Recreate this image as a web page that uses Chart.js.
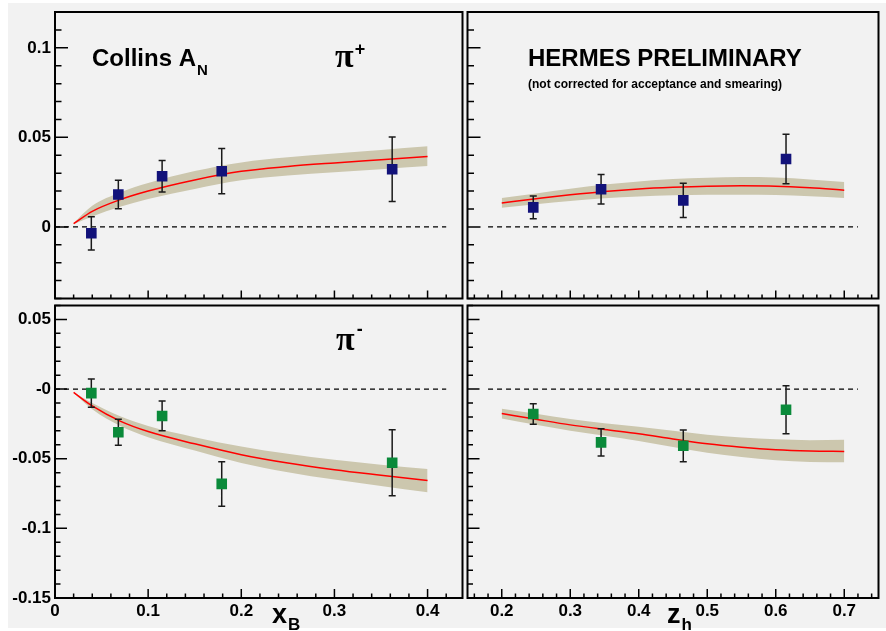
<!DOCTYPE html>
<html>
<head>
<meta charset="utf-8">
<script src="https://cdn.jsdelivr.net/npm/chart.js@4.4.1/dist/chart.umd.min.js"></script>
<style>
  html, body { margin: 0; padding: 0; background: #fff; }
  #page { position: relative; width: 886px; height: 631px; overflow: hidden; }
  #bg { position: absolute; left: 8px; top: 3px; width: 878px; height: 625px; background: #f2f2f2; }
  canvas { position: absolute; }
  #tl { left: 0; top: 0; }
  #tr { left: 460px; top: 0; }
  #bl { left: 0; top: 298px; }
  #br { left: 460px; top: 298px; }
</style>
</head>
<body>
<div id="page">
  <div id="bg"></div>
  <canvas id="tl" width="470" height="306"></canvas>
  <canvas id="tr" width="426" height="306"></canvas>
  <canvas id="bl" width="470" height="333"></canvas>
  <canvas id="br" width="426" height="333"></canvas>
</div>
<script>
// ---------- bins ----------
const xbBins = [0.039, 0.068, 0.115, 0.179, 0.362];
const zhBins = [0.246, 0.345, 0.465, 0.615];

// ---------- measured asymmetries ----------
const piPlusXb      = [-0.0036, 0.0181, 0.0283, 0.0311, 0.0322];
const piPlusXbErr   = [0.0093, 0.0080, 0.0088, 0.0126, 0.0180];
const piMinusXb     = [-0.0029, -0.0310, -0.0193, -0.0681, -0.0529];
const piMinusXbErr  = [0.0101, 0.0093, 0.0107, 0.0160, 0.0237];
const piPlusZh      = [0.0109, 0.0210, 0.0148, 0.0379];
const piPlusZhErr   = [0.0064, 0.0082, 0.0095, 0.0138];
const piMinusZh     = [-0.0179, -0.0383, -0.0407, -0.0148];
const piMinusZhErr  = [0.0074, 0.0098, 0.0114, 0.0172];

// ---------- model curves with error band ----------
const curveXb = [0.02, 0.04, 0.07, 0.1, 0.15, 0.2, 0.25, 0.3, 0.35, 0.4];
const fitPlusXb    = [0.0018, 0.0087, 0.0152, 0.0200, 0.0262, 0.0310, 0.0337, 0.0357, 0.0375, 0.0393];
const bandPlusXbHi = [0.0022, 0.0118, 0.0192, 0.0245, 0.0312, 0.0360, 0.0389, 0.0410, 0.0430, 0.0450];
const bandPlusXbLo = [0.0014, 0.0058, 0.0112, 0.0155, 0.0212, 0.0260, 0.0287, 0.0305, 0.0322, 0.0340];
const fitMinusXb    = [-0.0024, -0.0121, -0.0230, -0.0305, -0.0393, -0.0471, -0.0531, -0.0579, -0.0619, -0.0657];
const bandMinusXbHi = [-0.0022, -0.0100, -0.0195, -0.0265, -0.0345, -0.0412, -0.0465, -0.0508, -0.0543, -0.0574];
const bandMinusXbLo = [-0.0026, -0.0145, -0.0265, -0.0345, -0.0441, -0.0530, -0.0597, -0.0650, -0.0695, -0.0740];

const curveZh = [0.2, 0.25, 0.3, 0.35, 0.4, 0.45, 0.5, 0.55, 0.6, 0.65, 0.7];
const fitPlusZh    = [0.0134, 0.0157, 0.0179, 0.0198, 0.0212, 0.0221, 0.0227, 0.0229, 0.0227, 0.0218, 0.0205];
const bandPlusZhHi = [0.0161, 0.0187, 0.0213, 0.0236, 0.0254, 0.0267, 0.0274, 0.0278, 0.0276, 0.0265, 0.0250];
const bandPlusZhLo = [0.0107, 0.0127, 0.0145, 0.0160, 0.0170, 0.0176, 0.0180, 0.0180, 0.0178, 0.0171, 0.0161];
const fitMinusZh    = [-0.0176, -0.0217, -0.0257, -0.0290, -0.0321, -0.0358, -0.0393, -0.0418, -0.0436, -0.0445, -0.0448];
const bandMinusZhHi = [-0.0141, -0.0178, -0.0215, -0.0245, -0.0270, -0.0300, -0.0328, -0.0348, -0.0361, -0.0367, -0.0364];
const bandMinusZhLo = [-0.0211, -0.0256, -0.0299, -0.0335, -0.0372, -0.0416, -0.0458, -0.0488, -0.0511, -0.0523, -0.0526];

// ---------- dashed zero lines ----------
const zeroXb = [0, 0.42];
const zeroZh = [0.18, 0.72];
const zeroY  = [0, 0];

// ---------- axes ----------
const xbRange = [0, 0.4375];
const zhRange = [0.15, 0.75];
const topRange = [-0.04, 0.12];
const bottomRange = [-0.15, 0.06];

const xbTicks = [0, 0.1, 0.2, 0.3, 0.4];
const xbTickLabels = ['0', '0.1', '0.2', '0.3', '0.4'];
const zhTicks = [0.2, 0.3, 0.4, 0.5, 0.6, 0.7];
const zhTickLabels = ['0.2', '0.3', '0.4', '0.5', '0.6', '0.7'];
const topTicks = [0, 0.05, 0.1];
const topTickLabels = ['0', '0.05', '0.1'];
const bottomTicks = [-0.15, -0.1, -0.05, 0, 0.05];
const bottomTickLabels = ['-0.15', '-0.1', '-0.05', '-0', '0.05'];

const SANS  = '"Liberation Sans", Arial, Helvetica, sans-serif';
const SERIF = '"Liberation Serif", "Times New Roman", serif';
const BAND  = '#ccc7ae';
const NAVY  = '#12127a';
const GREEN = '#0a8a3a';

const pts = (xs, ys) => xs.map((x, i) => ({ x, y: ys[i] }));

// error bars are drawn just before the markers so the squares sit on top
const errorBars = {
  id: 'errorBars',
  beforeDatasetDraw(chart, { index }) {
    const ds = chart.data.datasets[index];
    if (!ds.errors) return;
    const { ctx, scales: { x, y } } = chart;
    ctx.save();
    ctx.strokeStyle = '#1a1a1a';
    ctx.lineWidth = 1.5;
    ctx.beginPath();
    ds.data.forEach((p, i) => {
      const px = x.getPixelForValue(p.x);
      const top = y.getPixelForValue(p.y + ds.errors[i]);
      const bot = y.getPixelForValue(p.y - ds.errors[i]);
      ctx.moveTo(px, top); ctx.lineTo(px, bot);
      ctx.moveTo(px - 3.5, top); ctx.lineTo(px + 3.5, top);
      ctx.moveTo(px - 3.5, bot); ctx.lineTo(px + 3.5, bot);
    });
    ctx.stroke();
    ctx.restore();
  }
};

// ROOT style frame: box + inward major/minor ticks + free text
const rootFrame = {
  id: 'rootFrame',
  afterDraw(chart, args, opts) {
    const { ctx, chartArea: a, scales: { x, y } } = chart;
    ctx.save();
    ctx.strokeStyle = '#000';
    ctx.lineWidth = 1.5;
    ctx.beginPath();
    y.ticks.forEach(t => {
      const py = y.getPixelForValue(t.value);
      ctx.moveTo(a.left, py); ctx.lineTo(a.left + opts.yMajor, py);
    });
    for (let i = Math.ceil(y.min / opts.yStep - 1e-6); i * opts.yStep <= y.max + 1e-9; i++) {
      const py = y.getPixelForValue(i * opts.yStep);
      ctx.moveTo(a.left, py); ctx.lineTo(a.left + opts.yMinor, py);
    }
    x.ticks.forEach(t => {
      const px = x.getPixelForValue(t.value);
      ctx.moveTo(px, a.bottom); ctx.lineTo(px, a.bottom - opts.xMajor);
    });
    for (let i = Math.ceil(x.min / opts.xStep - 1e-6); i * opts.xStep <= x.max + 1e-9; i++) {
      const px = x.getPixelForValue(i * opts.xStep);
      ctx.moveTo(px, a.bottom); ctx.lineTo(px, a.bottom - opts.xMinor);
    }
    ctx.stroke();
    ctx.lineWidth = 2;
    ctx.strokeRect(a.left, a.top, a.right - a.left, a.bottom - a.top);

    ctx.fillStyle = '#000';
    ctx.textBaseline = 'alphabetic';
    ctx.textAlign = 'left';
    (opts.texts || []).forEach(item => {
      let cx = item.x;
      item.parts.forEach(p => {
        ctx.font = p.font;
        ctx.fillText(p.t, cx + (p.dx || 0), item.y + (p.dy || 0));
        cx += ctx.measureText(p.t).width + (p.dx || 0);
      });
    });
    ctx.restore();
  }
};

function makePanel(id, cfg) {
  // lower "order" is painted later, i.e. on top
  const datasets = [
    { data: pts(cfg.bins, cfg.vals), errors: cfg.errs, showLine: false, pointStyle: 'rect', order: 0,
      pointRadius: 7.5, backgroundColor: cfg.color, borderColor: cfg.color, borderWidth: 0 },
    { data: pts(cfg.curveX, cfg.fit), borderColor: '#ff0000', borderWidth: 1.5, pointRadius: 0, order: 1,
      fill: false, cubicInterpolationMode: 'monotone' },
    { data: pts(cfg.curveX, cfg.hi), borderColor: 'rgba(0,0,0,0)', borderWidth: 1, pointRadius: 0, order: 2,
      backgroundColor: BAND, fill: '+1', cubicInterpolationMode: 'monotone' },
    { data: pts(cfg.curveX, cfg.lo), borderColor: 'rgba(0,0,0,0)', borderWidth: 1, pointRadius: 0, order: 3,
      fill: false, cubicInterpolationMode: 'monotone' },
    { data: pts(cfg.zeroX, zeroY), borderColor: '#000', borderWidth: 1.3, borderDash: [5, 4], pointRadius: 0, order: 4 }
  ];

  const tickFont = { family: SANS, size: 17, weight: 'bold' };

  new Chart(document.getElementById(id), {
    type: 'line',
    data: { datasets },
    plugins: [errorBars, rootFrame],
    options: {
      responsive: false,
      animation: false,
      layout: { padding: cfg.pad },
      plugins: {
        legend: { display: false },
        tooltip: { enabled: false },
        rootFrame: cfg.frame
      },
      scales: {
        x: {
          type: 'linear', min: cfg.xRange[0], max: cfg.xRange[1],
          grid: { display: false, drawTicks: false }, border: { display: false },
          ticks: { display: cfg.xLabels, font: tickFont, color: '#000', padding: 3, maxRotation: 0,
                   callback: (v, i) => cfg.xTickLabels[i] },
          afterBuildTicks: s => { s.ticks = cfg.xTicks.map(value => ({ value })); },
          afterFit: s => { s.height = cfg.xHeight; s.paddingLeft = 0; s.paddingRight = 0; }
        },
        y: {
          type: 'linear', min: cfg.yRange[0], max: cfg.yRange[1],
          grid: { display: false, drawTicks: false }, border: { display: false },
          ticks: { display: cfg.yLabels, font: tickFont, color: '#000', padding: 4,
                   callback: (v, i) => cfg.yTickLabels[i] },
          afterBuildTicks: s => { s.ticks = cfg.yTicks.map(value => ({ value })); },
          afterFit: s => { s.width = cfg.yWidth; s.paddingTop = 0; s.paddingBottom = 0; }
        }
      }
    }
  });
}

const bold = size => `bold ${size}px ${SANS}`;
const PI_FONT = `bold 34px ${SERIF}`;

// top left: pi+ vs x_B
makePanel('tl', {
  bins: xbBins, vals: piPlusXb, errs: piPlusXbErr, color: NAVY,
  curveX: curveXb, fit: fitPlusXb, hi: bandPlusXbHi, lo: bandPlusXbLo, zeroX: zeroXb,
  xRange: xbRange, yRange: topRange,
  xTicks: xbTicks, xTickLabels: xbTickLabels, yTicks: topTicks, yTickLabels: topTickLabels,
  xLabels: false, yLabels: true, xHeight: 0, yWidth: 55,
  pad: { left: 0, right: 3, top: 12, bottom: 2 },
  frame: {
    yMajor: 13, yMinor: 6.5, yStep: 0.01, xMajor: 8, xMinor: 4, xStep: 0.02,
    texts: [
      { x: 92, y: 66, parts: [{ t: 'Collins A', font: bold(24) }, { t: 'N', font: bold(15), dy: 9, dx: 1 }] },
      { x: 335, y: 67, parts: [{ t: 'π', font: PI_FONT }, { t: '+', font: bold(18), dy: -12, dx: 1 }] }
    ]
  }
});

// top right: pi+ vs z_h
makePanel('tr', {
  bins: zhBins, vals: piPlusZh, errs: piPlusZhErr, color: NAVY,
  curveX: curveZh, fit: fitPlusZh, hi: bandPlusZhHi, lo: bandPlusZhLo, zeroX: zeroZh,
  xRange: zhRange, yRange: topRange,
  xTicks: zhTicks, xTickLabels: zhTickLabels, yTicks: topTicks, yTickLabels: topTickLabels,
  xLabels: false, yLabels: false, xHeight: 0, yWidth: 0,
  pad: { left: 7, right: 6, top: 12, bottom: 2 },
  frame: {
    yMajor: 13, yMinor: 6.5, yStep: 0.01, xMajor: 8, xMinor: 4, xStep: 0.02,
    texts: [
      { x: 68, y: 66, parts: [{ t: 'HERMES PRELIMINARY', font: bold(24) }] },
      { x: 68, y: 88, parts: [{ t: '(not corrected for acceptance and smearing)', font: bold(12) }] }
    ]
  }
});

// bottom left: pi- vs x_B
makePanel('bl', {
  bins: xbBins, vals: piMinusXb, errs: piMinusXbErr, color: GREEN,
  curveX: curveXb, fit: fitMinusXb, hi: bandMinusXbHi, lo: bandMinusXbLo, zeroX: zeroXb,
  xRange: xbRange, yRange: bottomRange,
  xTicks: xbTicks, xTickLabels: xbTickLabels, yTicks: bottomTicks, yTickLabels: bottomTickLabels,
  xLabels: true, yLabels: true, xHeight: 33, yWidth: 55,
  pad: { left: 0, right: 3, top: 6, bottom: 0 },
  frame: {
    yMajor: 12, yMinor: 5.5, yStep: 0.01, xMajor: 9, xMinor: 4.5, xStep: 0.02,
    texts: [
      { x: 336, y: 52, parts: [{ t: 'π', font: PI_FONT }, { t: '-', font: bold(18), dy: -15, dx: 2 }] },
      { x: 272, y: 325, parts: [{ t: 'x', font: bold(27) }, { t: 'B', font: bold(17), dy: 7, dx: 1 }] }
    ]
  }
});

// bottom right: pi- vs z_h
makePanel('br', {
  bins: zhBins, vals: piMinusZh, errs: piMinusZhErr, color: GREEN,
  curveX: curveZh, fit: fitMinusZh, hi: bandMinusZhHi, lo: bandMinusZhLo, zeroX: zeroZh,
  xRange: zhRange, yRange: bottomRange,
  xTicks: zhTicks, xTickLabels: zhTickLabels, yTicks: bottomTicks, yTickLabels: bottomTickLabels,
  xLabels: true, yLabels: false, xHeight: 33, yWidth: 0,
  pad: { left: 7, right: 6, top: 6, bottom: 0 },
  frame: {
    yMajor: 12, yMinor: 5.5, yStep: 0.01, xMajor: 9, xMinor: 4.5, xStep: 0.02,
    texts: [
      { x: 207, y: 325, parts: [{ t: 'z', font: bold(27) }, { t: 'h', font: bold(17), dy: 7, dx: 1 }] }
    ]
  }
});
</script>
</body>
</html>
